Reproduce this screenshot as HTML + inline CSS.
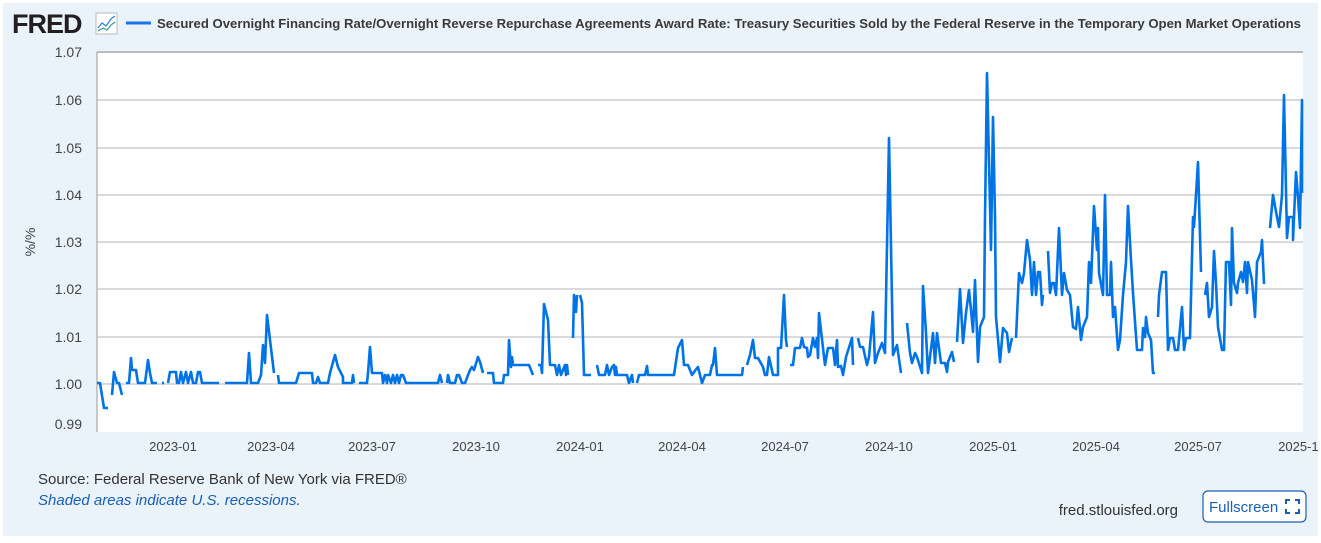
<!DOCTYPE html>
<html><head><meta charset="utf-8"><style>
body{margin:0;width:1321px;height:538px;background:#fff;overflow:hidden;font-family:"Liberation Sans",Arial,sans-serif}
</style></head><body>
<svg width="1321" height="538" xmlns="http://www.w3.org/2000/svg" font-family="Liberation Sans, Arial, sans-serif">
<rect x="0" y="0" width="1321" height="538" fill="#fff"/>
<rect x="3" y="3" width="1315" height="533" fill="#eaf2fa"/>
<text x="12" y="33" font-size="27" font-weight="bold" fill="#231f20" letter-spacing="-1">FRED</text>
<rect x="96" y="13" width="21" height="21" fill="#fff" stroke="#bbb" stroke-width="1"/>
<polyline points="98,28 102,23 106,26 111,19 115,16" fill="none" stroke="#2f7ed8" stroke-width="1.2"/>
<polyline points="98,31 103,28 107,30 111,25 115,22" fill="none" stroke="#2a9d8f" stroke-width="1.2"/>
<line x1="126" y1="23" x2="151" y2="23" stroke="#1a73e8" stroke-width="3"/>
<text x="157" y="28" font-size="13.3" font-weight="bold" fill="#3a3a3a" textLength="1144" lengthAdjust="spacingAndGlyphs">Secured Overnight Financing Rate/Overnight Reverse Repurchase Agreements Award Rate: Treasury Securities Sold by the Federal Reserve in the Temporary Open Market Operations</text>
<rect x="97" y="52" width="1206" height="380" fill="#fff"/>
<g stroke="#c4c4c4" stroke-width="1.3">
<line x1="97" y1="100" x2="1303" y2="100"/><line x1="97" y1="148" x2="1303" y2="148"/>
<line x1="97" y1="195" x2="1303" y2="195"/><line x1="97" y1="242" x2="1303" y2="242"/>
<line x1="97" y1="289" x2="1303" y2="289"/><line x1="97" y1="337" x2="1303" y2="337"/>
<line x1="97" y1="384" x2="1303" y2="384"/>
</g>
<line x1="97" y1="52" x2="1303" y2="52" stroke="#bbb" stroke-width="2"/>
<line x1="97" y1="52" x2="97" y2="432" stroke="#999" stroke-width="1"/>
<g font-size="14" fill="#444" text-anchor="end">
<text x="82" y="57">1.07</text><text x="82" y="105">1.06</text><text x="82" y="153">1.05</text>
<text x="82" y="200">1.04</text><text x="82" y="247">1.03</text><text x="82" y="294">1.02</text>
<text x="82" y="342">1.01</text><text x="82" y="389">1.00</text><text x="82" y="429">0.99</text>
</g>
<text transform="translate(35,242) rotate(-90)" font-size="14" fill="#444" text-anchor="middle">%/%</text>
<g font-size="13" fill="#444" text-anchor="middle">
<text x="173" y="451">2023-01</text><text x="271" y="451">2023-04</text><text x="372" y="451">2023-07</text>
<text x="476" y="451">2023-10</text><text x="580" y="451">2024-01</text><text x="682" y="451">2024-04</text>
<text x="785" y="451">2024-07</text><text x="889" y="451">2024-10</text><text x="993" y="451">2025-01</text>
<text x="1096" y="451">2025-04</text><text x="1198" y="451">2025-07</text><text x="1302" y="451">2025-10</text>
</g>
<rect x="1318" y="0" width="3" height="538" fill="#fff"/>
<g fill="none" stroke="#0073e6" stroke-width="2.6" stroke-linejoin="round">
<polyline points="97,383 100,383 104,408 108,408"/>
<polyline points="112,395 114,372 117,383 119,383 122,395"/>
<polyline points="126,383 129,383 131,358 132,370 136,370 138,383 145,383 148,360 150,373 152,383 157,383"/>
<polyline points="162,383 164,383"/>
<polyline points="168,383 170,372 176,372 177,383 179,383 181,372 183,383 186,372 188,383 191,372 193,383 196,383 198,372 200,372 202,383 219,383"/>
<polyline points="225,383 247,383 249,353 251,383 258,383 261,375 263,345 265,363 267,315 270,340 274,373"/>
<polyline points="278,375 279,383 296,383 299,373 312,373 313,383 316,383 318,377 320,383 328,383 330,373 335,355 338,367 343,377 343,383 352,383 353,375 354,383"/>
<polyline points="359,383 367,383 368,373 370,347 372,373 382,373 383,383 385,375 387,383 388,375 391,383 393,375 395,383 397,375 399,383 401,375 403,375 406,383 438,383 440,375 442,383"/>
<polyline points="447,383 448,375 450,383 455,383 457,375 459,375 462,383 465,383 470,370 472,367 474,370 478,357 480,362 483,373"/>
<polyline points="487,373 493,373 494,383 503,383 504,375 508,375 509,340 511,367 512,357 513,365 529,365 533,375"/>
<polyline points="538,365 541,365 542,373 544,304 548,320 550,365 555,365 557,375 559,365 561,375 565,365 566,375 567,365 568,375"/>
<polyline points="573,338 574,295 576,312 577,295"/>
<polyline points="580,295 582,303 584,375 591,375"/>
<polyline points="597,365 599,375 605,375 607,365 609,375 612,367 614,365 615,375 616,367 617,375 627,375 629,383 632,375 633,383"/>
<polyline points="637,383 639,375 645,375 647,366 648,375 674,375 678,348 682,340 684,365 688,365 692,375 697,368 698,367 702,383 705,375 710,375 712,365 713,365 715,348 717,375 742,375 743,367"/>
<polyline points="747,365 750,355 753,340 755,358 758,358 763,367 765,375 767,375 769,357 773,375 778,375 778,348 781,348 784,295 786,340 787,347"/>
<polyline points="790,365 793,365 795,348 800,348 802,338 804,347 807,348 808,357 810,355 813,338 815,347 817,338 818,358 819,313 823,348 825,365 828,348 833,348 835,365 837,340 838,367 841,366 843,375 846,357 852,338 853,365"/>
<polyline points="858,338 860,347 863,347 867,365 869,357 873,312 875,363 878,353 882,343 885,353 889,138 893,355 897,345 901,373"/>
<polyline points="907,323 910,353 912,363 915,353 917,357 922,373 923,286 926,333 928,373 933,333 935,363 937,333 941,363 945,363 947,372 948,362 952,352 954,362"/>
<polyline points="957,342 960,289 963,343 966,313 969,290 971,310 973,332 975,280 978,362 980,327 984,317 985,217 987,73 991,250 993,117 995,217 996,317 1000,362 1003,328 1007,333 1009,352 1012,338"/>
<polyline points="1016,338 1019,273 1022,283 1024,273 1027,240 1030,260 1032,295 1034,262 1036,295 1038,272 1040,272 1042,305 1043,295"/>
<polyline points="1048,251 1050,293 1052,283 1054,283 1056,295 1059,228 1062,295 1064,273 1067,290 1070,295 1073,327 1076,329 1078,307 1081,340 1083,327 1087,317 1089,262 1091,283 1094,206 1097,250 1098,228 1099,273 1103,295 1105,195 1107,295 1110,295 1111,262 1113,317 1115,307 1118,350 1120,340 1123,295 1126,262 1128,206 1131,260 1133,293 1137,350 1142,350 1143,328 1145,337 1146,317 1148,333 1151,340 1153,373 1155,373"/>
<polyline points="1158,317 1159,295 1162,272 1166,272 1168,350 1170,338 1173,338 1175,350 1178,350 1182,307 1184,350 1186,338 1190,338 1193,217 1194,227 1198,162 1201,272"/>
<polyline points="1205,295 1207,283 1209,317 1212,307 1214,251 1216,283 1218,327 1222,350 1224,350 1226,262 1229,262 1231,305 1232,228 1234,283 1237,293 1238,283 1241,272 1243,282 1245,262 1247,293 1248,262 1252,280 1255,317 1257,262 1261,252 1262,240 1264,284"/>
<polyline points="1270,228 1273,195 1277,217 1279,227 1282,195 1284,95 1287,238 1289,217 1293,217 1293,240 1296,172 1298,197 1300,228 1302,100 1302,193"/>
</g>
<text x="38" y="484" font-size="15" fill="#333">Source: Federal Reserve Bank of New York via FRED®</text>
<text x="38" y="505" font-size="15" font-style="italic" fill="#1a5fb4">Shaded areas indicate U.S. recessions.</text>
<text x="1178" y="515" font-size="15" fill="#333" text-anchor="end">fred.stlouisfed.org</text>
<rect x="1203" y="491" width="103" height="31" rx="5" fill="#fff" stroke="#1a5fb4" stroke-width="1.2"/>
<text x="1209" y="512" font-size="15" fill="#1a5fb4">Fullscreen</text>
<g stroke="#1a5fb4" stroke-width="2" fill="none">
<polyline points="1286,504 1286,500 1290,500"/><polyline points="1295,500 1299,500 1299,504"/>
<polyline points="1286,509 1286,513 1290,513"/><polyline points="1295,513 1299,513 1299,509"/>
</g>
</svg>
</body></html>
